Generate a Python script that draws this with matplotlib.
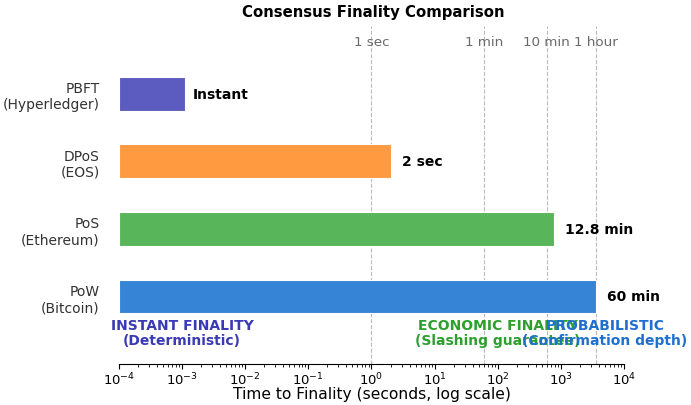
import matplotlib
matplotlib.use("Agg")
import matplotlib.pyplot as plt

categories = ["PBFT\n(Hyperledger)", "DPoS\n(EOS)", "PoS\n(Ethereum)", "PoW\n(Bitcoin)"]
finality_seconds = [0.001, 2, 768, 3600]
value_labels = ["Instant", "2 sec", "12.8 min", "60 min"]
bar_colors = ["#5b5bc0", "#ff9a40", "#59b559", "#3584d6"]

ref_times = [1, 60, 600, 3600]
ref_labels = ["1 sec", "1 min", "10 min", "1 hour"]

zone_x = [0.001, 100, 5000]
zone_texts = ["INSTANT FINALITY\n(Deterministic)", "ECONOMIC FINALITY\n(Slashing guarantee)",
              "PROBABILISTIC\n(Confirmation depth)"]
zone_colors = ["#3a3ab5", "#2ca02c", "#1f6fd0"]

fig = plt.figure(figsize=(6.91, 4.06), dpi=100)
ax = fig.add_axes([119/691, 1 - 365/406, (624-119)/691, (365-27)/406])

ypos = [3, 2, 1, 0]
ax.barh(ypos, finality_seconds, left=1e-4, height=0.5, color=bar_colors,
        edgecolor="white", linewidth=0.8)

for y, v, lab in zip(ypos, finality_seconds, value_labels):
    ax.text(v * 1.5, y, lab, va="center", ha="left", fontsize=10, fontweight="bold")

for t, lab in zip(ref_times, ref_labels):
    ax.axvline(t, color="#bbbbbb", linestyle="--", linewidth=0.8, zorder=0)
    ax.text(t, 3.77, lab, ha="center", va="center", fontsize=9.7, color="#6a6a6a")

for x, txt, c in zip(zone_x, zone_texts, zone_colors):
    ax.text(x, -0.53, txt, ha="center", va="center", fontsize=10, fontweight="bold",
            color=c, linespacing=1.1)

ax.set_xscale("log")
ax.set_xlim(1e-4, 1e4)
ax.set_ylim(-1.0, 4.0)
ax.set_yticks(ypos)
ax.set_yticklabels(categories, fontsize=10, color="#333333")
ax.tick_params(axis="y", length=0, pad=14)
ax.tick_params(axis="x", labelsize=9.5, pad=1)
ax.set_xlabel("Time to Finality (seconds, log scale)", fontsize=11.2)
ax.xaxis.label.set_va("center")
ax.xaxis.set_label_coords(0.5, -30/338)
for s in ["top", "right", "left"]:
    ax.spines[s].set_visible(False)
fig.text(373/691, 1 - 12/406, "Consensus Finality Comparison", fontsize=10.7,
         fontweight="bold", ha="center", va="center")

fig.savefig("out.png", dpi=100)
